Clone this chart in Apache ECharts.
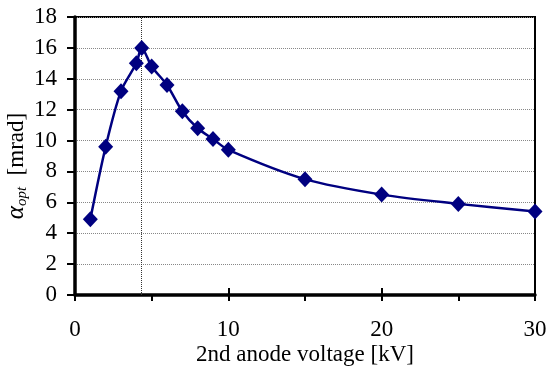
<!DOCTYPE html>
<html>
<head>
<meta charset="utf-8">
<script src="https://cdn.jsdelivr.net/npm/echarts@6/dist/echarts.min.js"></script>
<style>
  html, body { margin: 0; padding: 0; background: #fff; }
  #chart { width: 548px; height: 369px; }
</style>
</head>
<body>
<div id="chart"></div>
<script>
// 2nd anode voltage [kV] and optimum aperture angle [mrad]
const voltage = [1, 2, 3, 4, 4.35, 5, 6, 7, 8, 9, 10, 15, 20, 25, 30];
const alphaOpt = [4.9, 9.6, 13.2, 15.0, 16.0, 14.8, 13.6, 11.9, 10.8, 10.1, 9.4, 7.5, 6.5, 5.9, 5.4];
const peakVoltage = 4.35;
const xTicks = [0, 10, 20, 30];
const yTicks = [0, 2, 4, 6, 8, 10, 12, 14, 16, 18];

const points = voltage.map((v, i) => [v, alphaOpt[i]]);
const serif = '"Liberation Serif", "Times New Roman", serif';

const chart = echarts.init(document.getElementById('chart'));
chart.setOption({
  animation: false,
  backgroundColor: '#fff',
  grid: {
    left: 75, right: 13, top: 17, bottom: 74,
    show: true, borderColor: '#000', borderWidth: 2,
    containLabel: false,
    outerBoundsMode: 'none'
  },
  xAxis: [{
    type: 'value',
    min: xTicks[0], max: xTicks[xTicks.length - 1], interval: 5,
    axisLine: { show: true, onZero: false, lineStyle: { color: '#000', width: 3.5 } },
    axisTick: { show: true, inside: false, length: 6, lineStyle: { color: '#000', width: 2 } },
    splitLine: { show: false },
    axisLabel: {
      color: '#000', fontFamily: serif, fontSize: 23, margin: 23,
      formatter: v => (xTicks.indexOf(v) >= 0 ? String(v) : '')
    },
    name: '2nd anode voltage [kV]',
    nameLocation: 'middle', nameGap: 48, nameMoveOverlap: false,
    nameTextStyle: { color: '#000', fontFamily: serif, fontSize: 23 }
  }, {
    // inward half of the major ticks
    type: 'value', position: 'bottom',
    min: xTicks[0], max: xTicks[xTicks.length - 1], interval: 10,
    axisLine: { show: false },
    axisTick: { show: true, inside: true, length: 7, lineStyle: { color: '#000', width: 2 } },
    axisLabel: { show: false },
    splitLine: { show: false }
  }],
  yAxis: {
    type: 'value',
    min: yTicks[0], max: yTicks[yTicks.length - 1], interval: 2,
    axisLine: { show: true, onZero: false, lineStyle: { color: '#000', width: 3.5 } },
    axisTick: { show: true, inside: false, length: 8, lineStyle: { color: '#000', width: 2 } },
    splitLine: { show: true, lineStyle: { color: '#888', width: 1, type: 'dotted' } },
    axisLabel: { color: '#000', fontFamily: serif, fontSize: 23, margin: 18 },
    name: '{a|α}{s|opt}  [mrad]',
    nameLocation: 'middle', nameRotate: 90, nameGap: 45, nameMoveOverlap: false,
    nameTextStyle: {
      color: '#000', fontFamily: serif, fontSize: 23,
      padding: [0, 20, 0, 0],
      rich: {
        a: { fontFamily: serif, fontSize: 25, fontStyle: 'italic', color: '#000' },
        s: { fontFamily: serif, fontSize: 15, fontStyle: 'italic', color: '#000', verticalAlign: 'bottom', padding: [12, 0, 0, 0] }
      }
    }
  },
  series: [{
    type: 'line',
    data: points,
    smooth: 0.3,
    symbol: 'diamond',
    symbolSize: [15, 16],
    lineStyle: { color: '#000080', width: 2.5 },
    itemStyle: { color: '#000080' },
    z: 3,
    markLine: {
      silent: true,
      symbol: 'none',
      label: { show: false },
      lineStyle: { color: '#333', width: 1, type: 'dotted' },
      data: [{ xAxis: peakVoltage }],
      z: 1
    }
  }]
});
</script>
</body>
</html>
